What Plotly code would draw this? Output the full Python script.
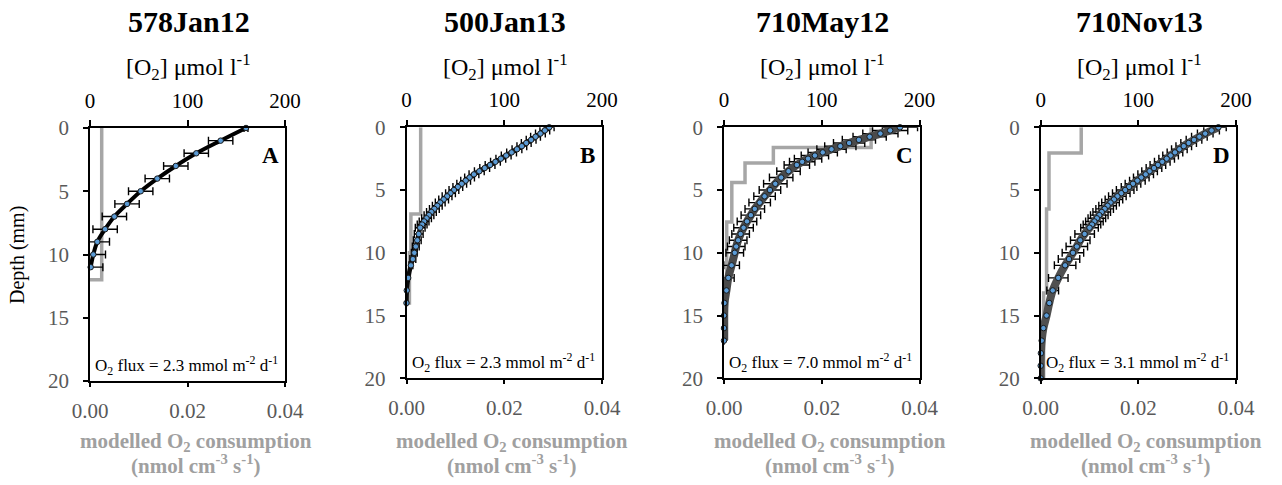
import plotly.graph_objects as go

FONT = "Liberation Serif"
# body margin is removed by a post script, so the figure fills the 1282x485 window
OFF = 0
FW, FH = 1282, 485

titles = ["578Jan12", "500Jan13", "710May12", "710Nov13"]
letters = ["A", "B", "C", "D"]
fluxes = ["2.3", "2.3", "7.0", "3.1"]

o2_ticks = [0, 100, 200]
cons_ticks = [0.0, 0.02, 0.04]
cons_ticklabels = ["0.00", "0.02", "0.04"]
depth_ticks = [0, 5, 10, 15, 20]

# ---- Panel A (578Jan12)
a_depth = [0, 1, 2, 3, 4, 5, 6, 7, 8, 9, 10, 11]
a_o2 = [160, 134, 109, 88, 69, 52, 38, 25, 15.5, 7.5, 3.4, 0.7]
a_err = [2, 12.5, 12.5, 12.5, 12.5, 12.5, 12.5, 12.5, 12.5, 12.5, 12.5, 12.5]
a_cons_depth = [0, 12]
a_cons = [0.0024, 0.0]

# ---- Panel B (500Jan13)
b_depth = [0, 0.25, 0.5, 0.75, 1, 1.25, 1.5, 1.75, 2, 2.25, 2.5, 2.75, 3, 3.25, 3.5, 3.75,
           4, 4.25, 4.5, 4.75, 5, 5.25, 5.5, 5.75, 6, 6.25, 6.5, 6.75, 7, 7.25, 7.5, 7.75,
           8, 8.5, 9, 9.5, 10, 10.5, 11, 12, 13, 14]
b_o2 = [146, 141.5, 137, 132, 127.5, 122.5, 118, 113, 107.5, 102, 96.5, 91, 85.5, 80, 74.5, 69,
        64.5, 60.5, 56.5, 52.5, 48.5, 45, 41.5, 38, 34.5, 31.5, 28.5, 25.5, 23, 20.5, 18, 16,
        14, 12.5, 11, 9.5, 8, 6.5, 4.5, 1.7, 0.3, 0]
b_err = [5] * 33 + [4.5, 4, 3.5, 3, 3, 2, 1, 0.5, 0]
b_cons_depth = [0, 6.9, 10, 14]
b_cons = [0.0029, 0.0009, 0.0006, 0.0]

# ---- Panel C (710May12)
c_depth = [0, 0.25, 0.5, 0.75, 1, 1.25, 1.5, 1.75, 2, 2.25, 2.5, 2.75, 3,
           3.5, 4, 4.5, 5, 5.5, 6, 6.5, 7, 7.5, 8, 8.5, 9, 9.5, 10,
           11, 12, 13, 14, 15, 16, 17]
c_o2 = [180, 170, 160, 149, 138, 128, 119, 110, 101, 93, 86, 80, 74.5,
        66, 58.5, 52.5, 47, 41.5, 36.5, 31.5, 27.5, 23.5, 20, 17, 14.5, 12.5, 11,
        7.8, 4.4, 2.5, 0.5, 0, 0, 0]
c_err = [18, 18, 18, 17, 17, 16, 16, 15, 15, 14, 14, 13, 13,
         12, 12, 12, 11, 11, 11, 10, 10, 10, 10, 9, 9, 9, 9,
         8, 6, 1, 0.5, 0, 0, 0]
c_cons_depth = [0, 1.6, 2.85, 4.4, 7.55, 16.8]
c_cons = [0.0301, 0.0101, 0.0043, 0.0016, 0.00055, 0.0]

# ---- Panel D (710Nov13)
d_depth = [0, 0.25, 0.5, 0.75, 1, 1.25, 1.5, 1.75, 2, 2.25, 2.5, 2.75, 3, 3.25, 3.5, 3.75,
           4, 4.25, 4.5, 4.75, 5, 5.25, 5.5, 5.75, 6, 6.25, 6.5, 6.75, 7, 7.25, 7.5, 7.75,
           8, 8.5, 9, 9.5, 10, 10.5, 11, 12, 13, 14, 15, 16, 17, 18, 19, 20]
d_o2 = [182, 175, 168.5, 162.5, 157, 151.5, 146.5, 142, 137.5, 133, 129, 124.5, 120, 116, 111.5, 107.5,
        103, 99, 94.5, 90.5, 86.5, 82.5, 78.5, 75, 71.5, 68.5, 65.5, 62.5, 60, 57.5, 55, 52.5,
        50, 45, 40.5, 37, 33, 29, 25, 18, 12.3, 8.8, 6, 2.8, 1, 0.2, 0, 0]
d_err = [8] * 20 + [9] * 13 + [10, 10, 11, 11, 11, 11, 10, 6, 1, 0.5, 0, 0, 0, 0, 0]
d_cons_depth = [0, 2.05, 6.5, 13.2, 20]
d_cons = [0.0083, 0.0017, 0.0012, 0.0006, 0.0]

panels = [
    dict(depth=a_depth, o2=a_o2, err=a_err, cd=a_cons_depth, c=a_cons,
         x0=90, x1=285, y0=128, y1=381, lc="#000000", lw=4),
    dict(depth=b_depth, o2=b_o2, err=b_err, cd=b_cons_depth, c=b_cons,
         x0=406.5, x1=602, y0=127.3, y1=378.3, lc="#0a0a0a", lw=4.5),
    dict(depth=c_depth, o2=c_o2, err=c_err, cd=c_cons_depth, c=c_cons,
         x0=724, x1=919.5, y0=127.3, y1=378.3, lc="#4a4a4a", lw=8),
    dict(depth=d_depth, o2=d_o2, err=d_err, cd=d_cons_depth, c=d_cons,
         x0=1040.7, x1=1236, y0=127.3, y1=378.3, lc="#505050", lw=8),
]


def px(x):
    return (x - OFF) / FW


def py(y):
    return 1 - (y - OFF) / FH


fig = go.Figure()
annotations = []
layout = {}

GRAY_TXT = "#595959"
TICK_SIZE = 21

for i, p in enumerate(panels):
    xb_ref = "x" if i == 0 else f"x{2*i+1}"
    xt = f"x{2*i+2}"
    ya_ref = "y" if i == 0 else f"y{i+1}"
    xb_key = "xaxis" if i == 0 else f"xaxis{2*i+1}"
    xt_key = f"xaxis{2*i+2}"
    y_key = "yaxis" if i == 0 else f"yaxis{i+1}"

    # consumption step profile (bottom axis)
    fig.add_trace(go.Scatter(x=p["c"], y=p["cd"], mode="lines", line_shape="vh",
                             line=dict(color="#a6a6a6", width=3.5),
                             xaxis=xb_ref, yaxis=ya_ref, showlegend=False, hoverinfo="skip"))
    # error bars
    fig.add_trace(go.Scatter(x=p["o2"], y=p["depth"], mode="markers",
                             marker=dict(size=2, opacity=0),
                             error_x=dict(type="data", array=p["err"], color="#000000",
                                          thickness=1.4, width=4),
                             xaxis=xt, yaxis=ya_ref, showlegend=False, hoverinfo="skip"))
    # model line
    fig.add_trace(go.Scatter(x=p["o2"], y=p["depth"], mode="lines", line_shape="spline",
                             line=dict(color=p["lc"], width=p["lw"]),
                             xaxis=xt, yaxis=ya_ref, showlegend=False, hoverinfo="skip"))
    # measured points
    fig.add_trace(go.Scatter(x=p["o2"], y=p["depth"], mode="markers", cliponaxis=False,
                             marker=dict(size=5.5, color="#5b9bd5",
                                         line=dict(color="#1a1a1a", width=1)),
                             xaxis=xt, yaxis=ya_ref, showlegend=False, hoverinfo="skip"))

    dom_x = [px(p["x0"]), px(p["x1"])]
    dom_y = [py(p["y1"]), py(p["y0"])]

    layout[xb_key] = dict(domain=dom_x, range=[0, 0.04], anchor=ya_ref, automargin=False,
                          tickvals=cons_ticks, ticktext=cons_ticklabels,
                          ticks="outside", ticklen=4, tickwidth=1.5, tickcolor="#000",
                          showline=True, linecolor="#000", linewidth=1.5, mirror=True,
                          showgrid=False, zeroline=False,
                          tickfont=dict(family=FONT, size=TICK_SIZE, color=GRAY_TXT),
                          ticklabelstandoff=6, fixedrange=True)
    layout[xt_key] = dict(overlaying=xb_ref, side="top", anchor=ya_ref, range=[0, 200],
                          automargin=False,
                          tickvals=o2_ticks, ticks="outside", ticklen=6, tickwidth=1.5,
                          tickcolor="#000", showline=True, linecolor="#000", linewidth=1.5,
                          showgrid=False, zeroline=False,
                          tickfont=dict(family=FONT, size=TICK_SIZE, color="#000"),
                          ticklabelstandoff=4, fixedrange=True)
    layout[y_key] = dict(domain=dom_y, range=[20, 0], anchor=xb_ref, automargin=False,
                         tickvals=depth_ticks, ticks="outside", ticklen=5, tickwidth=1.5,
                         tickcolor="#000", showline=True, linecolor="#000", linewidth=1.5,
                         mirror=True, showgrid=False, zeroline=False,
                         tickfont=dict(family=FONT, size=TICK_SIZE, color=GRAY_TXT),
                         ticklabelstandoff=10, fixedrange=True)

    cx = (p["x0"] + p["x1"]) / 2
    annotations.append(dict(text=f"<b>{titles[i]}</b>", x=px(cx + 1), y=py(22),
                            xref="paper", yref="paper", showarrow=False,
                            xanchor="center", yanchor="middle",
                            font=dict(family=FONT, size=30, color="#000")))
    annotations.append(dict(text="[O<sub>2</sub>] μmol l<sup>-1</sup>", x=px(cx + 1), y=py(67),
                            xref="paper", yref="paper", showarrow=False,
                            xanchor="center", yanchor="middle",
                            font=dict(family=FONT, size=24, color="#000")))
    annotations.append(dict(text="<b>modelled O<sub>2</sub> consumption</b>",
                            x=px(cx + 8), y=py(442), xref="paper", yref="paper",
                            showarrow=False, xanchor="center", yanchor="middle",
                            font=dict(family=FONT, size=21, color="#a0a0a0")))
    annotations.append(dict(text="<b>(nmol cm<sup>-3</sup> s<sup>-1</sup>)</b>",
                            x=px(cx + 8), y=py(464), xref="paper", yref="paper",
                            showarrow=False, xanchor="center", yanchor="middle",
                            font=dict(family=FONT, size=21, color="#a0a0a0")))
    annotations.append(dict(text=f"<b>{letters[i]}</b>", x=px(p["x1"] - 15), y=py(155),
                            xref="paper", yref="paper", showarrow=False,
                            xanchor="center", yanchor="middle",
                            font=dict(family=FONT, size=23, color="#000")))
    annotations.append(dict(text=f"O<sub>2</sub> flux = {fluxes[i]} mmol m<sup>-2</sup> d<sup>-1</sup>",
                            x=px(p["x0"] + 3), y=py(p["y1"] - 16),
                            xref="paper", yref="paper", showarrow=False,
                            xanchor="left", yanchor="middle",
                            font=dict(family=FONT, size=17, color="#000")))

annotations.append(dict(text="Depth (mm)", x=px(17), y=py(255), xref="paper", yref="paper",
                        showarrow=False, textangle=-90, xanchor="center", yanchor="middle",
                        font=dict(family=FONT, size=20, color="#000")))

fig.update_layout(width=FW, height=FH, margin=dict(l=0, r=0, t=0, b=0, pad=0, autoexpand=False),
                  autosize=False,
                  paper_bgcolor="white", plot_bgcolor="white",
                  annotations=annotations, showlegend=False, **layout)

fig.write_html("out.html", config={"responsive": False, "displayModeBar": False},
               post_script="document.body.style.margin='0px'; document.body.style.overflow='hidden';")
